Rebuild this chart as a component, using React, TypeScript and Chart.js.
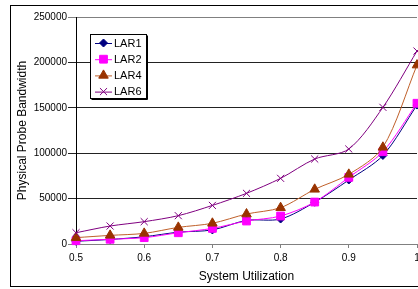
import React, { useEffect, useRef } from "react";
import { Chart, registerables } from "chart.js";
import { drawPoint } from "chart.js/helpers";

Chart.register(...registerables);

const utilization = [0.5, 0.55, 0.6, 0.65, 0.7, 0.75, 0.8, 0.85, 0.9, 0.95, 1.0];
const lar1 = [3000, 5000, 8000, 13000, 15500, 26000, 27500, 46000, 70500, 97500, 153000];
const lar2 = [3600, 5200, 7000, 12400, 17200, 25300, 30800, 46200, 73400, 101600, 155000];
const lar4 = [7000, 9500, 11700, 18300, 22800, 33000, 40000, 60200, 76700, 106500, 197000];
const lar6 = [12400, 19800, 24600, 31200, 42500, 55800, 72300, 93600, 104600, 150500, 212500];
const seriesNames = ["LAR1", "LAR2", "LAR4", "LAR6"];
const xTitle = "System Utilization";
const yTitle = "Physical Probe Bandwidth";

const FONT = "'Liberation Sans', Arial, sans-serif";

const styles = [
  { line: "#000080", fill: "#000080", point: "rectRot", radius: 4, order: 3 },
  { line: "#FF00FF", fill: "#FF00FF", point: "rect", radius: 5.5, order: 2 },
  { line: "#C0602A", fill: "#993300", point: "triangle", radius: 5.5, order: 1 },
  { line: "#800080", fill: "#800080", point: "crossRot", radius: 5, order: 0 },
];

const frame = {
  id: "frame",
  beforeDraw(chart: any) {
    const ctx = chart.ctx;
    ctx.save();
    ctx.fillStyle = "#fff";
    ctx.fillRect(0, 0, chart.width, chart.height);
    ctx.strokeStyle = "#000";
    ctx.lineWidth = 1;
    ctx.strokeRect(10.5, 5.5, 420, 281);
    ctx.restore();
  },
  afterDraw(chart: any) {
    const ctx = chart.ctx;
    ctx.save();
    const x = 90.5, y = 34.5, w = 56, h = 64;
    ctx.fillStyle = "#fff";
    ctx.fillRect(x, y, w, h);
    ctx.strokeStyle = "#000";
    ctx.lineWidth = 1;
    ctx.strokeRect(x, y, w, h);
    ctx.beginPath();
    ctx.moveTo(x + w + 1, y + 1);
    ctx.lineTo(x + w + 1, y + h + 1);
    ctx.lineTo(x + 1, y + h + 1);
    ctx.stroke();
    ctx.font = `11px ${FONT}`;
    ctx.textBaseline = "middle";
    ctx.textAlign = "left";
    seriesNames.forEach((name, i) => {
      const cy = 43 + i * 16.2;
      const s = styles[i];
      ctx.strokeStyle = s.line;
      ctx.lineWidth = 1;
      ctx.beginPath();
      ctx.moveTo(95, cy + 0.5);
      ctx.lineTo(112, cy + 0.5);
      ctx.stroke();
      ctx.fillStyle = s.fill;
      ctx.strokeStyle = s.fill;
      drawPoint(ctx, { pointStyle: s.point as any, radius: s.radius, rotation: 0, borderWidth: 1 }, 103.5, cy);
      ctx.fillStyle = "#000";
      ctx.fillText(name, 114, cy + 0.5);
    });
    ctx.restore();
  },
};

export default function App() {
  const ref = useRef<HTMLCanvasElement>(null);
  useEffect(() => {
    document.body.style.margin = "0";
    const data = [lar1, lar2, lar4, lar6];
    const chart = new Chart(ref.current!, {
      type: "line",
      data: {
        datasets: seriesNames.map((name, i) => ({
          label: name,
          data: utilization.map((u, j) => ({ x: u, y: data[i][j] })),
          borderColor: styles[i].line,
          backgroundColor: styles[i].fill,
          pointBorderColor: styles[i].fill,
          pointBackgroundColor: styles[i].fill,
          pointStyle: styles[i].point as any,
          pointRadius: styles[i].radius,
          pointBorderWidth: 1,
          borderWidth: 1,
          tension: 0.3,
          fill: false,
          clip: false as any,
          order: styles[i].order,
        })),
      },
      options: {
        responsive: false,
        animation: false,
        events: [],
        layout: { autoPadding: false, padding: { top: 17, right: 1, left: 0, bottom: 0 } },
        plugins: { legend: { display: false }, tooltip: { enabled: false } },
        scales: {
          x: {
            type: "linear",
            min: 0.5,
            max: 1,
            ticks: {
              stepSize: 0.1,
              color: "#000",
              font: { family: FONT, size: 10 },
              padding: 4,
              maxRotation: 0,
              callback: (v: any) => String(Number(Number(v).toFixed(1))),
            },
            grid: { drawOnChartArea: false, drawTicks: true, tickLength: 4, color: "#808080" },
            border: { color: "#808080", width: 1 },
            title: { display: true, text: xTitle, color: "#000", font: { family: FONT, size: 12 }, padding: { top: 0, bottom: 5 } },
            afterFit: (s: any) => {
              s.height = 45;
              s.paddingLeft = 0;
              s.paddingRight = 0;
            },
          },
          y: {
            min: 0,
            max: 250000,
            ticks: {
              stepSize: 50000,
              color: "#000",
              font: { family: FONT, size: 10 },
              padding: 1,
              callback: (v: any) => String(v),
            },
            grid: {
              color: (c: any) => (c.tick && (c.tick.value === 0 || c.tick.value === 250000) ? "#808080" : "#222"),
              tickLength: 8,
              lineWidth: 1,
            },
            border: { color: "#000", width: 1 },
            title: { display: true, text: yTitle, color: "#000", font: { family: FONT, size: 12 }, padding: { top: 15, bottom: 0 } },
            afterFit: (s: any) => {
              s.width = 76;
              s.paddingTop = 0;
              s.paddingBottom = 0;
            },
          },
        },
      },
      plugins: [frame],
    });
    return () => chart.destroy();
  }, []);
  return <canvas ref={ref} width={418} height={289} style={{ display: "block" }} />;
}
